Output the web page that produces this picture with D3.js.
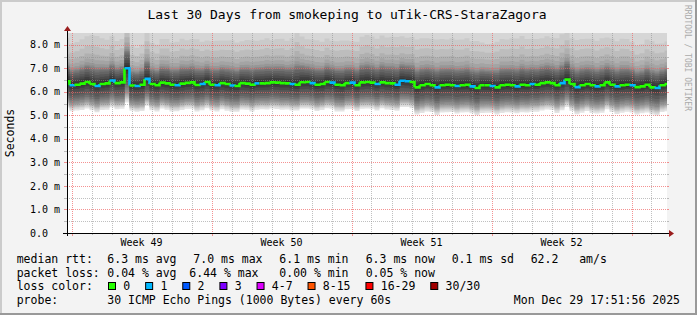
<!DOCTYPE html>
<html>
<head>
<meta charset="utf-8">
<script src="https://cdn.jsdelivr.net/npm/d3@7"></script>
<style>
  html, body { margin: 0; padding: 0; background: #f3f3f3; }
  svg { display: block; }
  text { font-family: "DejaVu Sans Mono", monospace; fill: #000; white-space: pre; }
</style>
</head>
<body>
<div id="chart"></div>
<script>
// ---- data ----
const titleText = "Last 30 Days from smokeping to uTik-CRS-StaraZagora";
const graphStart = new Date(2025, 10, 29, 18, 36);
const spanDays = 30;
const sampleHours = 6;

// median rtt per 6h sample (ms)
const medianMs = [
  6.45, 6.28, 6.30, 6.35, 6.42, 6.33, 6.25, 6.33, 6.36, 6.48,
  6.37, 6.40, 7.00, 6.27, 6.25, 6.30, 6.55, 6.33, 6.28, 6.39,
  6.36, 6.30, 6.28, 6.35, 6.38, 6.40, 6.29, 6.33, 6.42, 6.30,
  6.28, 6.37, 6.33, 6.27, 6.25, 6.37, 6.35, 6.30, 6.36, 6.36,
  6.37, 6.40, 6.39, 6.37, 6.36, 6.33, 6.30, 6.41, 6.42, 6.37,
  6.30, 6.33, 6.42, 6.39, 6.30, 6.28, 6.37, 6.39, 6.28, 6.40,
  6.42, 6.39, 6.33, 6.40, 6.37, 6.36, 6.30, 6.47, 6.45, 6.42,
  6.19, 6.28, 6.33, 6.28, 6.19, 6.28, 6.30, 6.28, 6.25, 6.28,
  6.30, 6.23, 6.16, 6.28, 6.28, 6.25, 6.19, 6.28, 6.30, 6.28,
  6.23, 6.30, 6.28, 6.33, 6.30, 6.37, 6.40, 6.37, 6.28, 6.37,
  6.52, 6.33, 6.20, 6.28, 6.33, 6.28, 6.23, 6.28, 6.40, 6.30,
  6.23, 6.28, 6.30, 6.28, 6.20, 6.23, 6.30, 6.19, 6.16, 6.28,
  6.33
];

// lost pings (of 30) per sample
const lossCount = [
  0, 1, 0, 0, 0, 0, 1, 0, 0, 1,
  0, 0, 1, 0, 1, 0, 1, 0, 0, 0,
  0, 0, 1, 0, 0, 0, 0, 1, 0, 0,
  1, 0, 0, 1, 0, 0, 0, 0, 1, 0,
  0, 0, 0, 0, 0, 1, 0, 0, 0, 1,
  0, 0, 0, 1, 0, 0, 0, 1, 0, 0,
  0, 0, 1, 0, 0, 0, 1, 1, 1, 0,
  0, 0, 0, 0, 1, 0, 0, 0, 1, 0,
  0, 1, 0, 0, 0, 1, 0, 0, 0, 0,
  1, 0, 0, 1, 0, 0, 0, 0, 0, 1,
  0, 0, 1, 0, 0, 0, 1, 0, 0, 0,
  1, 0, 0, 1, 0, 0, 0, 0, 1, 0,
  0
];

// how far the smoke reaches above / below the median, per sample
const upperSpread = [
  1.00, 0.96, 0.98, 1.02, 1.05, 1.12, 1.15, 1.05, 1.00, 1.02,
  0.97, 1.00, 1.15, 0.90, 0.88, 0.92, 1.10, 0.95, 0.93, 1.00,
  1.02, 0.97, 1.00, 1.03, 0.98, 1.00, 1.05, 0.97, 0.95, 1.00,
  1.02, 0.98, 1.00, 1.04, 1.00, 0.96, 1.00, 1.02, 0.98, 1.00,
  1.03, 0.97, 1.00, 1.02, 0.98, 1.05, 1.25, 1.05, 0.98, 1.00,
  1.02, 0.97, 1.00, 0.96, 1.00, 1.03, 0.98, 0.95, 1.00, 1.05,
  1.08, 1.06, 1.04, 1.08, 1.05, 1.07, 1.10, 1.02, 1.00, 1.03,
  1.10, 1.08, 1.05, 1.07, 1.10, 1.06, 1.04, 1.08, 1.06, 1.05,
  1.07, 1.04, 1.08, 0.98, 0.95, 0.97, 1.05, 1.06, 1.04, 1.08,
  1.10, 1.12, 1.06, 1.04, 1.05, 1.03, 1.06, 1.04, 1.08, 1.12,
  1.15, 1.05, 1.08, 1.06, 1.04, 1.07, 1.05, 1.08, 1.03, 1.06,
  1.04, 1.07, 1.05, 1.00, 0.95, 0.97, 1.04, 1.06, 1.02, 0.96,
  0.98
];
const lowerSpread = [
  1.00, 0.99, 0.98, 1.00, 1.01, 0.99, 1.00, 0.98, 1.00, 1.01,
  0.99, 1.00, 1.30, 0.96, 0.98, 1.00, 1.02, 0.99, 1.00, 0.98,
  1.00, 1.01, 0.99, 1.00, 0.98, 1.00, 1.01, 0.99, 1.00, 0.98,
  1.00, 0.99, 1.01, 1.00, 0.98, 1.00, 0.99, 1.01, 1.00, 0.98,
  1.00, 0.99, 1.00, 1.01, 0.99, 1.00, 0.98, 1.00, 1.01, 0.99,
  1.00, 0.98, 1.00, 0.99, 1.01, 1.00, 0.99, 1.00, 0.98, 1.00,
  1.01, 0.99, 1.00, 0.98, 1.00, 1.01, 0.99, 1.00, 0.98, 1.00,
  1.03, 1.05, 1.04, 1.02, 1.05, 1.03, 1.04, 1.02, 1.05, 1.03,
  1.04, 1.02, 1.03, 1.05, 1.04, 1.02, 1.03, 1.05, 1.04, 1.03,
  1.02, 1.04, 1.03, 1.05, 1.02, 1.04, 1.03, 1.02, 1.05, 1.03,
  1.04, 1.02, 1.03, 1.04, 1.02, 1.05, 1.03, 1.04, 1.02, 1.03,
  1.05, 1.04, 1.02, 1.03, 1.04, 1.02, 1.05, 1.03, 1.04, 1.02,
  1.03
];

// sorted ping offsets from the median (ms): pings 1..15 and 16..30
const lowOffsets = [-1.12, -1.05, -1.00, -0.96, -0.92, -0.88, -0.83, -0.77,
  -0.70, -0.63, -0.55, -0.45, -0.30, -0.18, -0.08];
const highOffsets = [0.10, 0.20, 0.30, 0.40, 0.50, 0.58, 0.64, 0.70,
  0.80, 0.95, 1.15, 1.45, 1.85, 2.60, 4.00];

const yTickValues = [0, 1, 2, 3, 4, 5, 6, 7, 8];
const yTickLabels = ["0.0", "1.0 m", "2.0 m", "3.0 m", "4.0 m", "5.0 m", "6.0 m", "7.0 m", "8.0 m"];

const rttRow = ["median rtt:", "6.3 ms avg", "7.0 ms max", "6.1 ms min", "6.3 ms now", "0.1 ms sd", "62.2   am/s"];
const lossRow = ["packet loss:", "0.04 % avg", "6.44 % max", "0.00 % min", "0.05 % now"];
const lossLabels = ["0", "1", "2", "3", "4-7", "8-15", "16-29", "30/30"];
const lossMax = [0, 1, 2, 3, 7, 15, 29, 30];
const lossColors = ["#26ff00", "#00b8ff", "#0059ff", "#7e00ff", "#dd00ff", "#ff5500", "#ff0000", "#a00000"];
const probeRow = ["probe:", "30 ICMP Echo Pings (1000 Bytes) every 60s"];
const stampText = "Mon Dec 29 17:51:56 2025";
const sideText = "RRDTOOL / TOBI OETIKER";

// ---- layout ----
const width = 697, height = 315;
const plot = { left: 67, right: 667, top: 33, bottom: 233 };
const rttCols = [16.7, 107.3, 193.3, 279.3, 365.7, 451.7, 530.7];
const lossCols = [16.7, 107.3, 189.3, 279.3, 365.7];
const rowY = [262.7, 276.5, 290.3, 304.2];
const legendFont = "11.5px";

const svg = d3.select("#chart").append("svg")
  .attr("width", width).attr("height", height);

// frame
svg.append("rect").attr("width", width).attr("height", height).attr("fill", "#f3f3f3");
svg.append("path").attr("d", `M1,${height} V1 H${width}`).attr("fill", "none")
  .attr("stroke", "#cbcbcb").attr("stroke-width", 2);
svg.append("path").attr("d", `M0,${height - 1} H${width - 1} V0`).attr("fill", "none")
  .attr("stroke", "#999999").attr("stroke-width", 2);

const x = d3.scaleTime()
  .domain([graphStart, d3.timeDay.offset(graphStart, spanDays)])
  .range([plot.left, plot.right]);
const y = d3.scaleLinear().domain([0, 8.5]).range([plot.bottom, plot.top]);

const times = medianMs.map((_, i) => d3.timeHour.offset(graphStart, i * sampleHours));

svg.append("defs").append("clipPath").attr("id", "plotclip")
  .append("rect").attr("x", plot.left).attr("y", plot.top)
  .attr("width", plot.right - plot.left).attr("height", plot.bottom - plot.top);

svg.append("rect").attr("x", plot.left).attr("y", plot.top)
  .attr("width", plot.right - plot.left).attr("height", plot.bottom - plot.top)
  .attr("fill", "#ffffff");

// smoke: 15 nested bands, lightest outside
const smoke = svg.append("g").attr("clip-path", "url(#plotclip)");
const idx = d3.range(medianMs.length);
for (let j = 0; j < 15; j++) {
  const g = Math.floor(190 / 15 * (14 - j)) + 50;
  const band = d3.area()
    .curve(d3.curveStep)
    .x(i => x(times[i]))
    .y0(i => y(medianMs[i] + lowOffsets[j] * lowerSpread[i]))
    .y1(i => y(medianMs[i] + highOffsets[14 - j] * upperSpread[i]));
  smoke.append("path").attr("d", band(idx)).attr("fill", d3.rgb(g, g, g));
}

// grid
const grid = svg.append("g").attr("shape-rendering", "crispEdges");
const px = v => Math.round(v) + 0.5;
const minorGrid = "rgba(140,140,140,0.55)", majorGrid = "rgba(240,100,100,0.7)";
const halfSteps = d3.range(0.5, 8.5, 0.5);
halfSteps.forEach(v => {
  const major = Number.isInteger(v);
  const yy = px(y(v));
  const col = major ? majorGrid : minorGrid;
  grid.append("line").attr("x1", plot.left).attr("x2", plot.right).attr("y1", yy).attr("y2", yy)
    .attr("stroke", col).attr("stroke-dasharray", "1,1");
  grid.append("line").attr("x1", plot.left - 3).attr("x2", plot.left).attr("y1", yy).attr("y2", yy)
    .attr("stroke", col);
  grid.append("line").attr("x1", plot.right).attr("x2", plot.right + 2).attr("y1", yy).attr("y2", yy)
    .attr("stroke", col);
});
const days = d3.timeDay.range(d3.timeDay.ceil(x.domain()[0]), x.domain()[1]);
days.forEach(d => {
  const major = d.getDay() === 0;
  const xx = px(x(d));
  const col = major ? majorGrid : minorGrid;
  grid.append("line").attr("x1", xx).attr("x2", xx).attr("y1", plot.top).attr("y2", plot.bottom)
    .attr("stroke", col).attr("stroke-dasharray", "1,1");
  grid.append("line").attr("x1", xx).attr("x2", xx).attr("y1", plot.bottom).attr("y2", plot.bottom + (major ? 3 : 2))
    .attr("stroke", col);
});

// median line, coloured by loss
const lossColor = n => lossColors[lossMax.findIndex(m => n <= m)];
const half = (x(times[1]) - x(times[0])) / 2;
const med = svg.append("g").attr("clip-path", "url(#plotclip)");
medianMs.forEach((v, i) => {
  const p = d3.path();
  const xl = Math.max(x(times[i]) - half, plot.left);
  const xr = Math.min(x(times[i]) + half, plot.right);
  p.moveTo(xl, y(v));
  p.lineTo(xr, y(v));
  if (i < medianMs.length - 1) p.lineTo(xr, y(medianMs[i + 1]));
  med.append("path").attr("d", p.toString()).attr("fill", "none")
    .attr("stroke", lossColor(lossCount[i])).attr("stroke-width", 2.6)
    .attr("stroke-linejoin", "miter");
});

// axes
const axes = svg.append("g").attr("shape-rendering", "crispEdges");
axes.append("line").attr("x1", plot.left - 4).attr("x2", plot.right + 2)
  .attr("y1", plot.bottom + 0.5).attr("y2", plot.bottom + 0.5).attr("stroke", "#000");
axes.append("line").attr("x1", plot.left + 0.5).attr("x2", plot.left + 0.5)
  .attr("y1", plot.bottom + 3).attr("y2", plot.top - 3).attr("stroke", "#000");
svg.append("path")
  .attr("d", `M${plot.left + 0.5},${plot.top - 7} L${plot.left - 3},${plot.top - 2} L${plot.left + 4},${plot.top - 2} Z`)
  .attr("fill", "#9a1d1d");
svg.append("path")
  .attr("d", `M${plot.right + 7},${plot.bottom + 0.5} L${plot.right + 2},${plot.bottom - 3} L${plot.right + 2},${plot.bottom + 4} Z`)
  .attr("fill", "#9a1d1d");

// y tick labels
svg.append("g").selectAll("text").data(yTickValues).join("text")
  .attr("x", 30).attr("y", d => y(d) + 3.6)
  .style("font-size", "10px")
  .text((d, i) => yTickLabels[i]);

// week labels centred on each week
const weekStarts = d3.timeSunday.range(x.domain()[0], x.domain()[1]);
const weeks = weekStarts.filter(w => d3.timeDay.offset(w, 7) <= x.domain()[1]);
const weekFmt = d3.timeFormat("Week %V");
svg.append("g").selectAll("text").data(weeks).join("text")
  .attr("x", d => x(new Date(+d + 3.5 * 864e5)))
  .attr("y", 246)
  .attr("text-anchor", "middle")
  .style("font-size", "10px")
  .text(d => weekFmt(new Date(+d + 3.5 * 864e5)));

// title and side labels
svg.append("text").attr("x", 347).attr("y", 18.5).attr("text-anchor", "middle")
  .style("font-size", "13px").text(titleText);
svg.append("text")
  .attr("transform", `translate(14,${(plot.top + plot.bottom) / 2}) rotate(-90)`)
  .attr("text-anchor", "middle").style("font-size", legendFont).text("Seconds");
svg.append("text")
  .attr("transform", "translate(685,5) rotate(90)")
  .style("font-size", "8px").style("fill", "#aaaaaa").text(sideText);

// legend
const leg = svg.append("g").style("font-size", legendFont);
rttRow.forEach((t, i) => leg.append("text").attr("x", rttCols[i]).attr("y", rowY[0]).text(t));
lossRow.forEach((t, i) => leg.append("text").attr("x", lossCols[i]).attr("y", rowY[1]).text(t));
leg.append("text").attr("x", rttCols[0]).attr("y", rowY[2]).text("loss color:");
let cursor = 109;
lossLabels.forEach((t, i) => {
  leg.append("rect").attr("x", cursor - 0.5).attr("y", rowY[2] - 7.8)
    .attr("width", 7).attr("height", 7)
    .attr("fill", lossColors[i]).attr("stroke", "#000").attr("stroke-width", 1);
  const lbl = leg.append("text").attr("x", cursor + 14.3).attr("y", rowY[2]).text(t);
  cursor = cursor + 14.3 + lbl.node().getComputedTextLength() + 15.9;
});
leg.append("text").attr("x", rttCols[0]).attr("y", rowY[3]).text(probeRow[0]);
leg.append("text").attr("x", rttCols[1]).attr("y", rowY[3]).text(probeRow[1]);
leg.append("text").attr("x", 680).attr("y", rowY[3]).attr("text-anchor", "end").text(stampText);
</script>
</body>
</html>
